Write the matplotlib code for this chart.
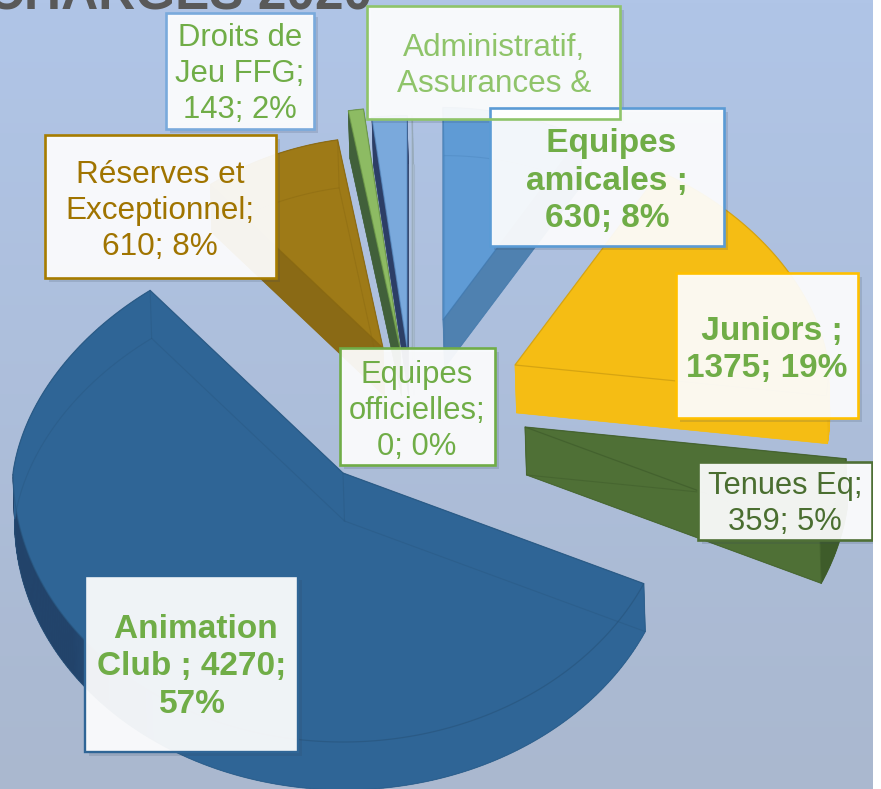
import numpy as np
import matplotlib
matplotlib.use("Agg")
import matplotlib.pyplot as plt
from matplotlib.patches import Polygon, Rectangle

# ---------- data ----------
categories = ["Equipes officielles", "Equipes amicales", "Juniors", "Tenues Eq",
              "Animation Club", "Réserves et Exceptionnel",
              "Administratif, Assurances &", "Droits de Jeu FFG"]
values = [0, 630, 1375, 359, 4270, 610, 60, 143]

label_texts = ["Equipes\nofficielles;\n0; 0%", " Equipes\namicales ;\n630; 8%",
               " Juniors ;\n1375; 19%", "Tenues Eq;\n359; 5%",
               " Animation\nClub ; 4270;\n57%", "Réserves et\nExceptionnel;\n610; 8%",
               "Administratif,\nAssurances &", "Droits de\nJeu FFG;\n143; 2%"]
title_text = "CHARGES 2020"

# ---------- style / layout ----------
W, H = 881, 789
PANEL_W = 873
START = 90.0
RX, RY_BACK, RY_FRONT = 330.0, 236.0, 269.0
BACK_NARROW = 0.10
DEPTH = np.array([1.5, 48.0])
# screen position of each slice's tip and its perspective scale
tips = [(412, 347), (443, 320), (515, 365), (525, 427), (343, 473), (383, 348), (400, 348), (407, 347)]
scales = [0.98, 0.90, 0.95, 0.98, 1.0, 0.895, 1.02, 0.98]
top_col = ["#a9bccf", "#5f9bd5", "#f5bd14", "#4f7036", "#2f6596", "#9e7a17", "#8dbb63", "#7aa9dc"]
cut_col = ["#a9bccf", "#4f81b0", "#f5bd14", "#4f7036", "#2f6596", "#8a6a15", "#41603a", "#2c3e66"]
wall_col = ["#a9bccf", "#4f81b0", "#f0b712", "#3e5c2a", "#2f6596", "#8a6a15", "#41603a", "#2c3e66"]
edge_col = ["#95a8b8", "#3f77ad", "#c99a10", "#3f5c2b", "#28567f", "#876711", "#6d9a48", "#5b8fc6"]
bot_line_alpha = [0.5, 0.25, 0.0, 0.5, 0.4, 0.4, 0.0, 0.0]

boxes = [(340, 348, 155, 117), (490, 108, 234, 138), (676, 273, 182, 145), (698, 462, 174, 78),
         (85, 576, 213, 176), (45, 135, 231, 143), (367, 6, 253, 113), (166, 13, 148, 116)]
box_edge = ["#70ad47", "#5b9bd5", "#ffc000", "#4f7036", "#2f6596", "#a67c00", "#8fc46a", "#7aaadc"]
box_lw = [1.9, 1.9, 1.9, 1.9, 1.7, 1.9, 1.9, 1.9]
text_col = ["#70ad47", "#70ad47", "#70ad47", "#4a6e30", "#70ad47", "#a07400", "#8fc46a", "#70ad47"]
text_bold = [False, True, True, False, True, False, False, False]
text_size = [22.3, 24, 24, 22.2, 24, 22.7, 22.7, 22.3]
text_xy = [(417, 411), (607, 181), (767, 350), (785, 504), (192, 667), (160, 211), (494, 66), (240, 74)]

plt.rcParams["font.family"] = ["Liberation Sans", "DejaVu Sans"]
fig = plt.figure(figsize=(W / 100, H / 100), dpi=100)
ax = fig.add_axes([0, 0, 1, 1])
ax.set_xlim(0, W)
ax.set_ylim(H, 0)
ax.axis("off")

# background gradient
grad = np.linspace(0, 1, 256)[:, None, None]
c0 = np.array([176, 197, 231]) / 255
c1 = np.array([170, 184, 207]) / 255
ax.imshow(c0 + (c1 - c0) * grad, extent=(0, W, H, 0), aspect="auto", zorder=0)


def rim(tip, s, phi):
    phi = np.radians(phi)
    back = np.sin(phi) > 0
    ry = np.where(back, RY_BACK, RY_FRONT)
    rx = RX * (1 - BACK_NARROW * np.clip(np.sin(phi), 0, 1))
    return np.column_stack([tip[0] + s * rx * np.cos(phi), tip[1] - s * ry * np.sin(phi)])


def mix(a, b, t):
    a, b = matplotlib.colors.to_rgb(a), matplotlib.colors.to_rgb(b)
    return tuple(x + (y - x) * t for x, y in zip(a, b))


total = sum(values)
sweeps = [v / total * 360 for v in values]
starts = START - np.concatenate([[0], np.cumsum(sweeps)[:-1]])

order = [4, 5, 6, 7, 0, 1, 3, 2]
for z, i in enumerate(order):
    tip = np.array(tips[i], float)
    a0, a1 = starts[i], starts[i] - sweeps[i]
    n = max(3, int(sweeps[i] * 1.5))
    phi = np.linspace(a0, a1, n)
    arc = rim(tip, scales[i], phi)
    zb = 2 + z * 0.1
    top = np.vstack([tip, arc])
    bot = top + DEPTH
    ax.add_patch(Polygon(bot, closed=True, fc=cut_col[i], ec="none", zorder=zb))
    for k in range(len(top)):
        k2 = (k + 1) % len(top)
        if 0 < k < len(top) - 1:
            p = phi[k - 1] % 360
            if i == 4:
                t = np.clip((p - 215) / 22, 0, 1) if p >= 180 else 0.0
                col = mix("#22436a", top_col[i], t) if p >= 180 else top_col[i]
            else:
                col = wall_col[i]
        else:
            col = cut_col[i]
        ax.add_patch(Polygon([top[k], top[k2], bot[k2], bot[k]], closed=True,
                             fc=col, ec=col, lw=0.4, zorder=zb + 0.01))
    ax.add_patch(Polygon(top, closed=True, fc=top_col[i], ec="none", zorder=zb + 0.02))
    # thin see-through edges
    ax.add_patch(Polygon(top, closed=True, fc="none", ec=edge_col[i], lw=0.9, alpha=0.7, zorder=zb + 0.03))
    if bot_line_alpha[i] > 0:
        ax.add_patch(Polygon(bot, closed=True, fc="none", ec=edge_col[i], lw=0.8,
                             alpha=bot_line_alpha[i], zorder=zb + 0.03))
        for p in (0, 1, len(top) - 1):
            ax.plot([top[p, 0], bot[p, 0]], [top[p, 1], bot[p, 1]], color=edge_col[i], lw=0.8,
                    alpha=bot_line_alpha[i], zorder=zb + 0.03)

# clipped title
ax.text(372, 9, title_text, ha="right", va="baseline", fontsize=37, fontweight="bold",
        color="#595959", zorder=1)

# data labels
for i in range(len(categories)):
    x, y, w, h = boxes[i]
    ax.add_patch(Rectangle((x + 4, y + 4), w, h, fc="#33445a", alpha=0.16, ec="none", zorder=8))
    ax.add_patch(Rectangle((x, y), w, h, fc="white", alpha=0.93, ec="none", zorder=9))
    ax.add_patch(Rectangle((x, y), w, h, fc="none", ec=box_edge[i], lw=box_lw[i], zorder=9.1))
    ax.text(*text_xy[i], label_texts[i], ha="center", va="center", ma="center", color=text_col[i],
            fontsize=text_size[i], fontweight="bold" if text_bold[i] else "normal",
            linespacing=1.27, zorder=10)

# white strip at the right of the screenshot
ax.add_patch(Rectangle((PANEL_W, 0), W - PANEL_W, H, fc="white", ec="none", zorder=20))

fig.savefig("out.png", dpi=100)
